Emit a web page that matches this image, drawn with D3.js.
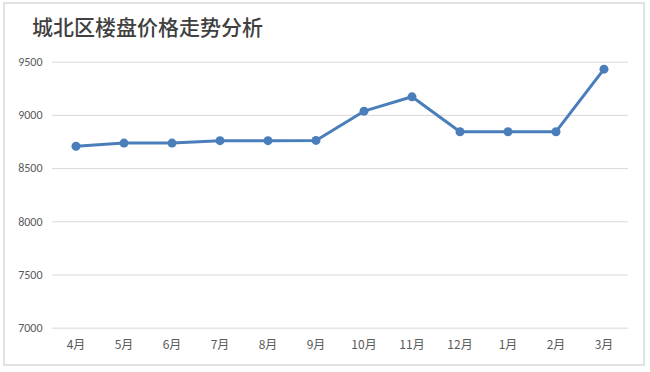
<!DOCTYPE html>
<html>
<head>
<meta charset="utf-8">
<script src="https://cdn.jsdelivr.net/npm/d3@7"></script>
<style>
  html, body { margin: 0; padding: 0; background: #fff; }
  svg { display: block; }
</style>
</head>
<body>
<div id="chart"></div>
<script>
const title = "城北区楼盘价格走势分析";
const months = ["4月","5月","6月","7月","8月","9月","10月","11月","12月","1月","2月","3月"];
const prices = [8705, 8735, 8735, 8758, 8758, 8760, 9035, 9170, 8842, 8842, 8842, 9430];
const yTicks = [7000, 7500, 8000, 8500, 9000, 9500];

(function () {
const W = 650, H = 372;
const svg = d3.select("#chart").append("svg").attr("width", W).attr("height", H);

// chart border
svg.append("rect")
  .attr("x", 4).attr("y", 3).attr("width", 640).attr("height", 362)
  .attr("fill", "#fff").attr("stroke", "#d9d9d9").attr("stroke-width", 1.5);

// title
svg.append("text")
  .attr("x", 32).attr("y", 35)
  .attr("font-family", "'Noto Sans CJK SC', sans-serif")
  .attr("font-size", 21).attr("font-weight", 500)
  .attr("fill", "#404040")
  .text(title);

const mLeft = 52, mRight = 628, mTop = 61.7, mBottom = 327.7;
const x = d3.scaleBand().domain(months).range([mLeft, mRight]);
const y = d3.scaleLinear().domain([7000, 9500]).range([mBottom, mTop]);

// grid lines
const yAxis = d3.axisLeft(y).tickValues(yTicks).tickSize(-(mRight - mLeft)).tickPadding(10).tickFormat(d3.format("d"));
const gy = svg.append("g").attr("transform", `translate(${mLeft},0)`).call(yAxis);
gy.select(".domain").remove();
gy.selectAll(".tick line").attr("stroke", "#d9d9d9").attr("stroke-width", 1);
gy.selectAll(".tick text")
  .attr("x", -9.5)
  .attr("font-family", "Calibri, Carlito, 'Liberation Sans', sans-serif")
  .attr("font-size", 12).attr("fill", "#595959");

// x axis labels
const xAxis = d3.axisBottom(x).tickSize(0).tickPadding(13);
const gx = svg.append("g").attr("transform", `translate(0,${mBottom})`).call(xAxis);
gx.select(".domain").remove();
gx.selectAll(".tick text")
  .attr("font-family", "'Noto Sans CJK SC', sans-serif")
  .attr("font-size", 12).attr("fill", "#595959");

// line
const cx = d => x(d) + x.bandwidth() / 2;
const line = d3.line().x((d, i) => cx(months[i])).y(d => y(d));
svg.append("path")
  .datum(prices)
  .attr("d", line)
  .attr("fill", "none")
  .attr("stroke", "#4a7ebb")
  .attr("stroke-width", 3)
  .attr("stroke-linejoin", "round");

svg.selectAll("circle.pt")
  .data(prices)
  .enter().append("circle")
  .attr("class", "pt")
  .attr("cx", (d, i) => cx(months[i]))
  .attr("cy", d => y(d))
  .attr("r", 4.5)
  .attr("fill", "#4a7ebb");
})();
</script>
</body>
</html>
